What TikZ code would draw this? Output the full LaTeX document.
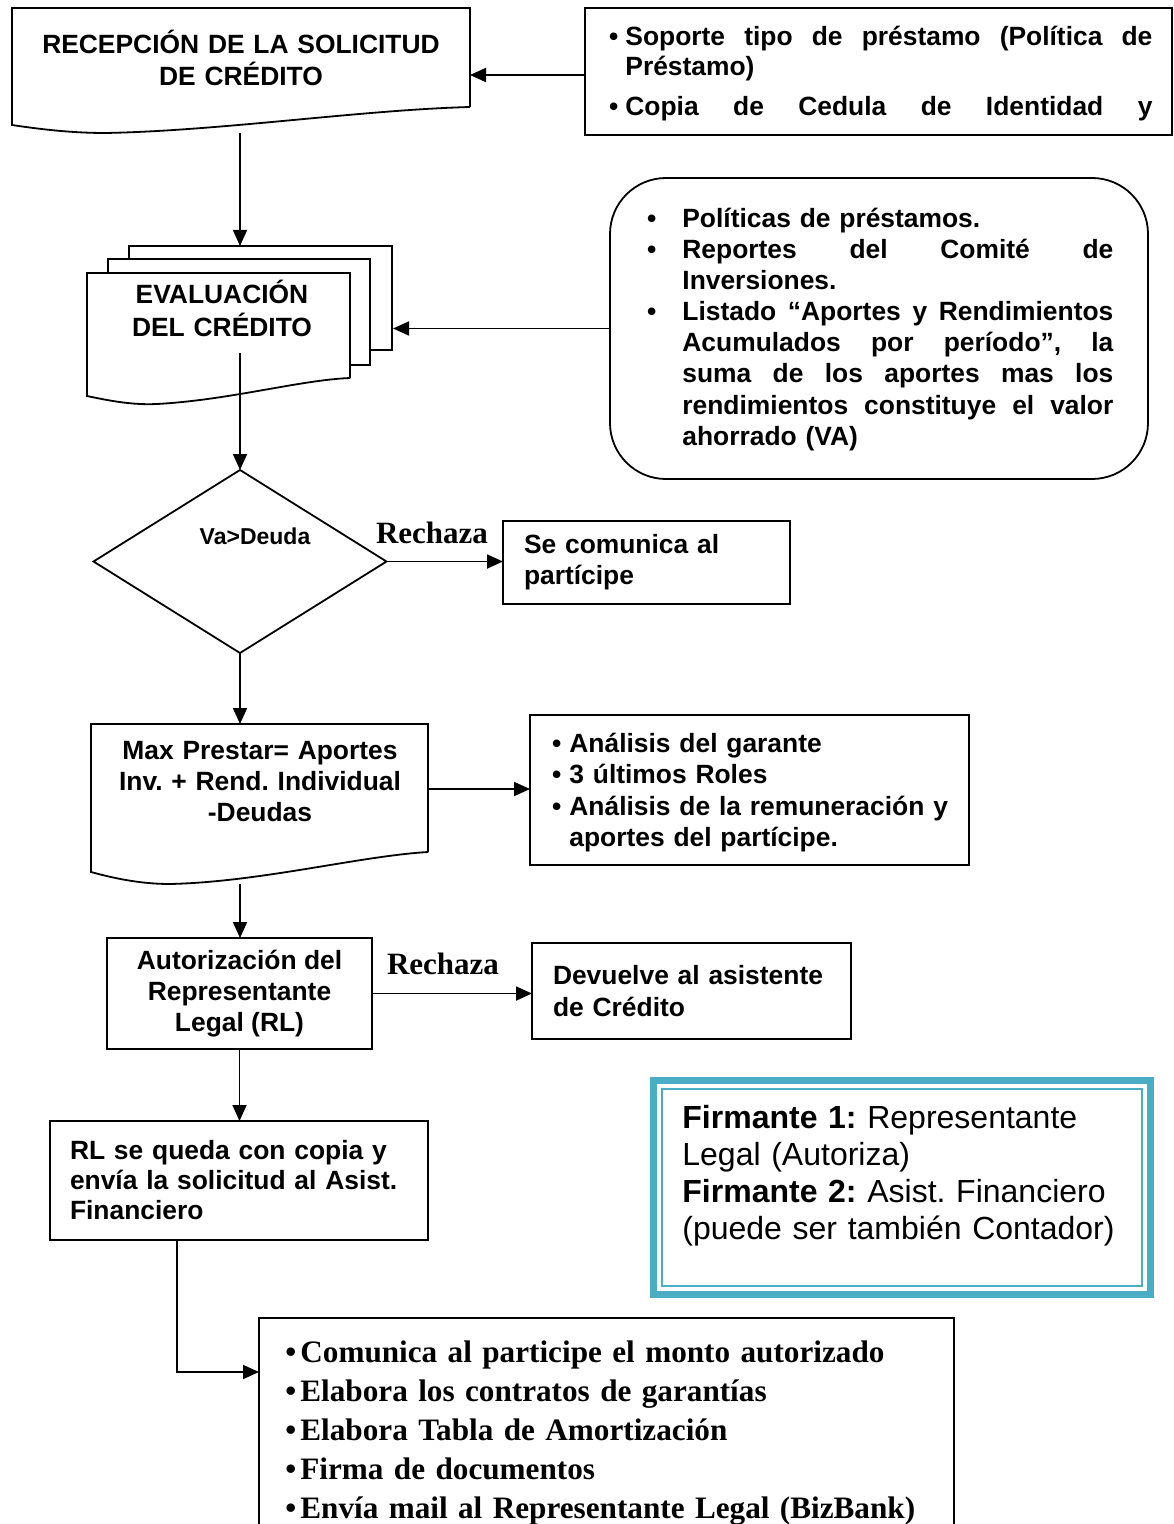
\documentclass[tikz,border=0pt]{standalone}
\usepackage{fontspec}
\usepackage{tikz}
\usetikzlibrary{arrows.meta,shapes.geometric}
\setmainfont{Liberation Sans}
\newfontfamily\timesfont{Liberation Serif}
\definecolor{firmblue}{HTML}{4BACC6}
\newcommand{\sline}[2]{\leavevmode\hbox to #1{\spaceskip=.28em plus 1fil\relax #2}}
\newcommand{\bul}[1]{\leavevmode\llap{\textbullet\hspace{#1}}}
\tikzset{
    box/.style={draw,line width=0.9pt,fill=white,inner sep=0pt,outer sep=0pt},
    doc/.style={draw,line width=0.9pt,fill=white},
    arr/.style={-{Triangle[length=8pt,width=7pt]},line width=0.9pt},
    lbl/.style={font=\bfseries\fontsize{13.2}{15.5}\selectfont},
    txt/.style={lbl,inner sep=0pt},
    rech/.style={inner sep=0pt,font=\timesfont\bfseries\fontsize{15.5}{18}\selectfont}
}

\begin{document}
\frenchspacing
\begin{tikzpicture}[x=0.5pt,y=-0.5pt]
    \useasboundingbox (0,0) rectangle (1173,1524);
    \clip (0,0) rectangle (1173,1524);

    \draw[doc] (470,107) -- (470,8) -- (12,8) -- (12,125) .. controls (45,130) and (75,133) .. (105,133) .. controls (220,131) and (360,110) .. (470,107);
    \node[txt,text width=220pt,align=center,anchor=base,font=\bfseries\fontsize{13.2}{16}\selectfont] (rectxt) at (241,54) {RECEPCIÓN DE LA SOLICITUD\\DE CRÉDITO};
    \coordinate (recS) at (240,133);
    \coordinate (recE) at (470,75);

    \node[box,minimum width=293.5pt,minimum height=63.5pt] (docsbox) at (878.5,71.5) {};
    \node[txt,text width=263.5pt,align=left,anchor=base west,font=\bfseries\fontsize{13.2}{15}\selectfont] (docstxt) at (625,46) {\bul{3.5pt}\sline{263.5pt}{Soporte tipo de préstamo (Política de}\\ Préstamo)\\[5pt] \bul{3.5pt}\sline{263.5pt}{Copia de Cedula de Identidad y}};

    \node[box,rounded corners=28pt,minimum width=269pt,minimum height=150.5pt] (polbox) at (879,328.5) {};
    \node[txt,text width=215.5pt,align=left,anchor=base west] (poltxt) at (682,228) {\bul{13pt}Políticas de préstamos.\\
        \bul{13pt}\sline{215.5pt}{Reportes del Comité de}\\
        Inversiones.\\
        \bul{13pt}\sline{215.5pt}{Listado “Aportes y Rendimientos}\\
        \sline{215.5pt}{Acumulados por período”, la}\\
        \sline{215.5pt}{suma de los aportes mas los}\\
        \sline{215.5pt}{rendimientos constituye el valor}\\
        ahorrado (VA)};

    \draw[doc] (129,246) rectangle (392,350);
    \draw[doc] (108,259) rectangle (370,365);
    \draw[doc] (350,378) -- (350,273) -- (87,273) -- (87,396) .. controls (115,402) and (135,405) .. (157,404) .. controls (230,400) and (300,380) .. (350,378);
    \node[txt,text width=120pt,align=center,anchor=base,font=\bfseries\fontsize{13.2}{16.5}\selectfont] (evaltxt) at (222,304) {EVALUACIÓN\\DEL CRÉDITO};
    \coordinate (evalN) at (240,246);
    \coordinate (evalE) at (393,325);
    \coordinate (evalS) at (240,353);

    \node[draw,diamond,line width=0.9pt,minimum width=146.5pt,minimum height=91.5pt,inner sep=0pt,outer sep=0pt] (dec) at (240,561.5) {};
    \node[inner sep=0pt,font=\bfseries\fontsize{11.5}{13}\selectfont] (dectxt) at (255,536) {Va>Deuda};
    \node[rech] (rech1) at (432,533) {Rechaza};
    \node[box,lbl,minimum width=143.5pt,minimum height=41.5pt,text width=122.5pt,inner xsep=10.5pt,align=left] (comunica) at (646.5,562.5) {Se comunica al\\partícipe};

    \draw[doc] (428,852) -- (428,724) -- (91,724) -- (91,872) .. controls (120,880) and (145,884) .. (170,884) .. controls (260,882) and (360,856) .. (428,852);
    \node[txt,text width=160pt,align=center,anchor=base] (maxtxt) at (260,759) {Max Prestar= Aportes\\Inv. + Rend. Individual\\-Deudas};
    \coordinate (maxN) at (240,724);
    \coordinate (maxE) at (428,789);
    \coordinate (maxS) at (240,884);

    \node[box,minimum width=219.5pt,minimum height=75pt] (anabox) at (749.5,790) {};
    \node[txt,text width=200pt,align=left,anchor=base west,font=\bfseries\fontsize{13.2}{15.75}\selectfont] (anatxt) at (569,752) {\bul{4pt}Análisis del garante\\ \bul{4pt}3 últimos Roles\\ \bul{4pt}Análisis de la remuneración y\\ aportes del partícipe.};

    \node[box,lbl,minimum width=132.5pt,minimum height=55.5pt,align=center] (aut) at (239.5,993.5) {Autorización del\\Representante\\Legal (RL)};
    \node[rech] (rech2) at (443,964) {Rechaza};
    \node[box,lbl,minimum width=159.5pt,minimum height=48pt,text width=138.5pt,inner xsep=10.5pt,align=left,font=\bfseries\fontsize{13.2}{16}\selectfont] (dev) at (691.5,991) {Devuelve al asistente\\de Crédito};

    \node[box,lbl,minimum width=189pt,minimum height=59.5pt,text width=169pt,inner xsep=10pt,align=left,font=\bfseries\fontsize{13.2}{15}\selectfont] (rl) at (239,1180.5) {RL se queda con copia y\\envía la solicitud al Asist.\\Financiero};
    \coordinate (rlOut) at (177,1240);
    \coordinate (finIn) at (259,1372);

    \node[draw=firmblue,line width=3.5pt,minimum width=248.5pt,minimum height=107pt,inner sep=0pt,outer sep=0pt] (firmbox) at (902,1187.5) {};
    \draw[firmblue,line width=0.8pt] ([shift={(4.3pt,-4.3pt)}]firmbox.north west) rectangle ([shift={(-4.3pt,4.3pt)}]firmbox.south east);
    \node[inner sep=0pt,text width=225pt,anchor=base west,align=left,font=\fontsize{16}{18.5}\selectfont] (firmtxt) at (682,1128) {\textbf{Firmante 1:} Representante\\Legal (Autoriza)\\\textbf{Firmante 2:} Asist. Financiero\\(puede ser también Contador)};

    \node[box,minimum width=347.5pt,minimum height=200pt,anchor=north west] (finbox) at (259,1318) {};
    \node[inner sep=0pt,text width=320pt,anchor=base west,align=left,font=\timesfont\bfseries\fontsize{15.6}{19.5}\selectfont] (fintxt) at (300,1362) {\bul{2pt}Comunica al participe el monto autorizado\\
        \bul{2pt}Elabora los contratos de garantías\\
        \bul{2pt}Elabora Tabla de Amortización\\
        \bul{2pt}Firma de documentos\\
        \bul{2pt}Envía mail al Representante Legal (BizBank)};

    \draw[arr] (docsbox.west |- recE) -- (recE);
    \draw[arr] (recS) -- (evalN);
    \draw[arr] (polbox.west) -- (polbox.west -| evalE);
    \draw[arr] (evalS) -- (evalS |- dec.north);
    \draw[arr] (dec.east) -- (dec.east -| comunica.west);
    \draw[arr] (dec.south) -- (maxN);
    \draw[arr] (maxE) -- (maxE -| anabox.west);
    \draw[arr] (maxS) -- (maxS |- aut.north);
    \draw[arr] (aut.east) -- (aut.east -| dev.west);
    \draw[arr] (aut.south) -- (aut.south |- rl.north);
    \draw[arr] (rlOut) |- (finIn);
\end{tikzpicture}
\end{document}
